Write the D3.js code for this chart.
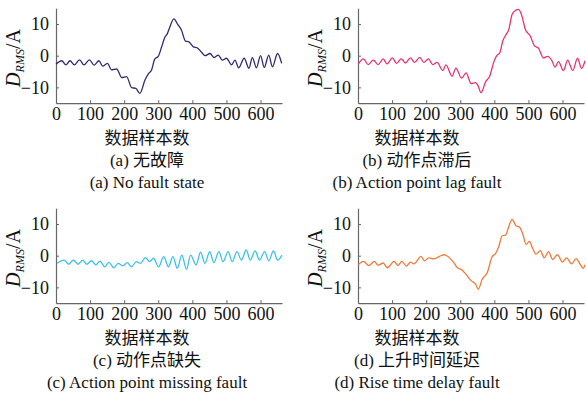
<!DOCTYPE html>
<html>
<head>
<meta charset="utf-8">
<script src="https://cdn.jsdelivr.net/npm/d3@7"></script>
<style>
  body { margin: 0; background: #fff; }
  text { font-family: "Liberation Serif", "Noto Sans CJK SC", serif; }
</style>
</head>
<body>
<div id="chart"></div>
<script>
const width = 586,
    height = 401;

// tick labels
const xTicks = [0, 100, 200, 300, 400, 500, 600];
const yTicks = [-10, 0, 10];

// series: [sample index, D_RMS in A]
const seriesA = [[0,-2.7],[17,-1.6],[29,-2.9],[41,-1.6],[54,-2.9],[69,-1.3],[82,-2.9],[98,-1.3],[112,-3.0],
    [126,-1.6],[137,-3.3],[151,-2.4],[163,-4.5],[178,-4.2],[193,-6.9],[207,-6.6],[222,-10.1],[234,-10.3],
    [246,-11.9],[261,-7.7],[272,-5.6],[280,-4.6],[290,-1.0],[300,-0.2],[310,2.8],[320,6.0],[326,6.8],
    [334,9.1],[346,11.6],[357,9.9],[368,8.1],[380,4.6],[390,4.4],[403,2.8],[414,2.5],[427,1.1],[437,0],
    [452,0.7],[464,-0.6],[476,0.2],[488,-1.4],[500,-0.8],[515,-2.9],[525,-1.4],[536,-3.8],[552,-0.8],
    [566,-4.0],[576,-0.6],[588,-3.8],[600,0],[611,-3.7],[624,0.2],[635,-3.5],[650,0.7],[662,-2.4]];

const seriesB = [[1,-2.6],[16,-1.0],[30,-2.8],[45,-1.4],[59,-2.8],[74,-1.0],[85,-2.6],[101,-0.7],[113,-2.4],
    [127,-1.0],[139,-2.3],[154,-0.7],[166,-2.1],[181,-0.5],[193,-2.1],[207,-1.0],[219,-2.8],[232,-2.1],
    [249,-4.7],[258,-2.9],[276,-6.5],[287,-3.9],[304,-7.1],[317,-5.4],[332,-8.8],[345,-8.5],[352,-9.4],
    [361,-11.7],[374,-8.3],[387,-6.3],[398,-2.1],[408,0.2],[415,0.7],[425,4.7],[435,6.8],[442,8.1],
    [452,13.0],[462,14.3],[471,14.6],[481,12.5],[491,8.3],[505,6.3],[518,3.1],[530,2.3],[544,-0.7],
    [556,-0.2],[569,-1.6],[578,-3.6],[588,-1.9],[603,-4.7],[615,-1.4],[630,-4.7],[644,-0.8],[656,-4.0],
    [666,-1.6]];

const seriesC = [[3,-2.4],[24,-1.4],[37,-2.7],[51,-1.4],[65,-2.7],[78,-1.4],[90,-2.7],[104,-1.6],[117,-2.9],
    [129,-1.7],[143,-3.5],[155,-2.1],[170,-3.8],[182,-2.4],[196,-3.2],[209,-2.2],[221,-3.5],[236,-1.9],
    [248,-2.4],[262,-0.6],[275,-1.9],[286,-0.8],[301,-3.5],[316,-0.3],[330,-3.5],[343,-0.3],[356,-4.0],
    [369,0.2],[383,-4.3],[395,0.2],[411,-2.9],[424,1.1],[437,-2.4],[451,1.3],[463,-2.2],[478,1.3],
    [490,-1.9],[505,1.3],[517,-1.9],[531,1.3],[544,-1.4],[558,1.8],[570,-1.4],[584,1.5],[597,-1.4],
    [612,1.3],[624,-1.6],[638,1.5],[650,-1.4],[663,0.2]];

const seriesD = [[1,-2.8],[16,-1.8],[32,-3.1],[48,-1.8],[59,-3.0],[74,-2.3],[86,-3.8],[106,-1.8],[117,-3.1],
    [129,-1.8],[142,-3.3],[154,-2.0],[164,-2.6],[185,-0.2],[195,-1.6],[207,-0.7],[222,-1.0],[239,-0.2],
    [253,0.3],[263,-0.2],[278,-1.8],[292,-3.8],[304,-4.4],[317,-5.9],[331,-7.8],[345,-9.0],[353,-10.6],
    [364,-7.5],[379,-5.4],[394,-0.2],[403,0.6],[413,2.9],[423,6.3],[433,6.5],[442,9.1],[452,11.5],
    [464,9.4],[473,9.1],[483,7.0],[493,3.6],[503,4.5],[512,2.4],[522,0.5],[535,1.6],[546,-0.7],
    [559,1.3],[571,-1.2],[585,0.3],[600,-2.0],[612,-0.7],[627,-2.6],[640,-0.9],[651,-2.6],[661,-4.0],
    [666,-2.8]];

const xLabel = "数据样本数";
const captionsCn = ["(a) 无故障", "(b) 动作点滞后", "(c) 动作点缺失", "(d) 上升时间延迟"];
const captionsEn = ["(a) No fault state", "(b) Action point lag fault",
    "(c) Action point missing fault", "(d) Rise time delay fault"];
const colors = ["#2e2c70", "#e8336b", "#3cc2ea", "#ee7b3c"];

const allSeries = [seriesA, seriesB, seriesC, seriesD];

const svg = d3.select("#chart")
    .append("svg")
    .attr("width", width)
    .attr("height", height);

svg.append("rect").attr("width", width).attr("height", height).attr("fill", "#fff");

// panel placement (right column is cropped at the page edge, its captions sit further left)
const plotLeft = [56, 358, 56, 358],
    plotTop = [0, 0, 200, 200],
    captionX = [147, 417, 147, 417],
    plotW = 226;

allSeries.forEach((data, i) => {
    const g = svg.append("g")
        .attr("transform", `translate(${plotLeft[i]}, ${plotTop[i]})`);

    const x = d3.scaleLinear().domain([0, 663]).range([0, plotW]);
    const y = d3.scaleLinear().domain([-15, 15]).range([103.2, 8.2]);

    const xAxis = d3.axisBottom(x).tickValues(xTicks).tickSizeInner(-3).tickSizeOuter(0).tickPadding(4);
    const yAxis = d3.axisLeft(y).tickValues(yTicks).tickSizeInner(-3).tickSizeOuter(0).tickPadding(7)
        .tickFormat(d => d < 0 ? "\u2212" + Math.abs(d) : d);

    const xg = g.append("g")
        .attr("transform", `translate(0, ${y(-15)})`)
        .call(xAxis);
    const yg = g.append("g").call(yAxis);

    [xg, yg].forEach(a => {
        a.select(".domain").attr("stroke", "#666").attr("stroke-width", 1.2);
        a.selectAll(".tick line").attr("stroke", "#666");
        a.selectAll(".tick text")
            .attr("fill", "#111")
            .attr("font-size", 18)
            .style("font-family", "Liberation Serif");
    });

    // y label D_RMS/A
    const yl = g.append("text")
        .attr("transform", `translate(${-36}, ${58}) rotate(-90)`)
        .attr("text-anchor", "middle")
        .attr("fill", "#111")
        .attr("font-size", 20);
    yl.append("tspan").attr("font-style", "italic").text("D");
    yl.append("tspan").attr("font-style", "italic").attr("font-size", 12).attr("dy", 4).text("RMS");
    yl.append("tspan").attr("dy", -4).text("/A");

    g.append("path")
        .datum(data)
        .attr("fill", "none")
        .attr("stroke", colors[i])
        .attr("stroke-width", 1.3)
        .attr("stroke-linejoin", "round")
        .attr("d", d3.line()
            .curve(d3.curveMonotoneX)
            .x(d => x(d[0]))
            .y(d => y(d[1])));

    const cx = captionX[i] - plotLeft[i];
    g.append("text")
        .attr("x", cx).attr("y", 144)
        .attr("text-anchor", "middle")
        .attr("font-size", 17)
        .attr("fill", "#111")
        .style("font-family", "Noto Sans CJK SC")
        .text(xLabel);

    g.append("text")
        .attr("x", cx).attr("y", 166)
        .attr("text-anchor", "middle")
        .attr("font-size", 17)
        .attr("fill", "#111")
        .text(captionsCn[i]);

    g.append("text")
        .attr("x", cx).attr("y", 188)
        .attr("text-anchor", "middle")
        .attr("font-size", 17)
        .attr("fill", "#111")
        .text(captionsEn[i]);
});
</script>
</body>
</html>
